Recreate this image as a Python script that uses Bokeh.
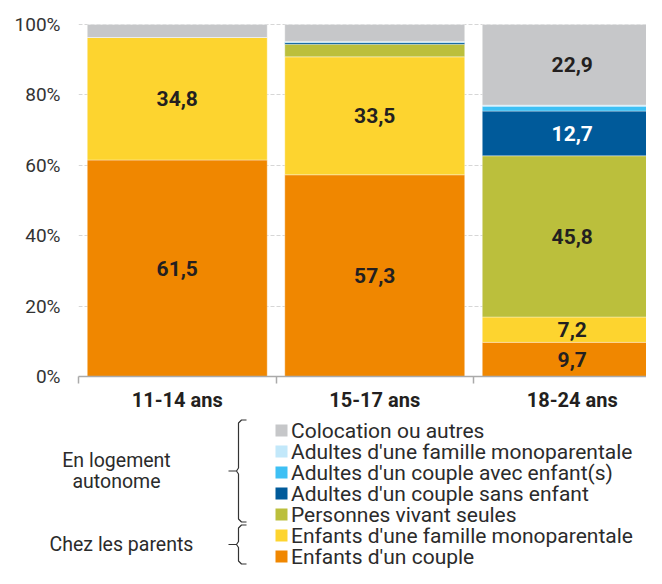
from bokeh.plotting import figure
from bokeh.models import ColumnDataSource, Range1d, FixedTicker, PrintfTickFormatter
from bokeh.embed import file_html
from bokeh.resources import INLINE
from bokeh.core.properties import value

# ---------------- data ----------------
categories = ["11-14 ans", "15-17 ans", "18-24 ans"]
series_names = [
    "Enfants d'un couple",
    "Enfants d'une famille monoparentale",
    "Personnes vivant seules",
    "Adultes d'un couple sans enfant",
    "Adultes d'un couple avec enfant(s)",
    "Adultes d'une famille monoparentale",
    "Colocation ou autres",
]
enfants_couple = [61.5, 57.3, 9.7]
enfants_mono = [34.8, 33.5, 7.2]
personnes_seules = [0.0, 3.6, 45.8]
couple_sans_enfant = [0.0, 0.5, 12.7]
couple_avec_enfant = [0.0, 0.1, 1.4]
adultes_mono = [0.0, 0.2, 0.3]
colocation = [3.7, 4.8, 22.9]
series_values = [enfants_couple, enfants_mono, personnes_seules, couple_sans_enfant,
                 couple_avec_enfant, adultes_mono, colocation]
colors = ["#F08700", "#FDD42F", "#BBBF3C", "#005A9A", "#3EC0F4", "#C2E8FA", "#C6C7C9"]
label_colors = ["#231F20", "#231F20", "#231F20", "#FFFFFF", "#231F20", "#231F20", "#231F20"]
y_ticks = [0, 20, 40, 60, 80, 100]
group_labels = [["En logement", "autonome"], ["Chez les parents"]]
group_members = [[6, 5, 4, 3, 2], [1, 0]]

FONT = "Roboto"
W = 646
H = 568

# ---------------- chart ----------------
xs = [i + 0.5 for i in range(len(categories))]
keys = ["s%d" % i for i in range(len(series_names))]
data = {"x": xs}
for k, v in zip(keys, series_values):
    data[k] = v
src = ColumnDataSource(data)

CH = 418
p = figure(width=W, height=CH, x_range=Range1d(0, 568 / 197.5), y_range=Range1d(0, 100.28),
           output_backend="svg", toolbar_location=None,
           min_border_left=78, min_border_right=0, min_border_top=23, min_border_bottom=42)
p.outline_line_color = None
p.xgrid.visible = False
p.ygrid.ticker = FixedTicker(ticks=y_ticks)
p.ygrid.grid_line_color = "#D6D6D6"
p.ygrid.grid_line_dash = "4 2"
p.ygrid.grid_line_width = 1

p.vbar_stack(keys, x="x", width=0.911, color=colors, line_color="white",
             line_width=0.5, line_alpha=0.7, source=src)

# value labels
lx, ly, lt, lc = [], [], [], []
for j, x in enumerate(xs):
    base = 0.0
    for i, vals in enumerate(series_values):
        v = vals[j]
        if v >= 5:
            lx.append(x)
            ly.append(base + v / 2)
            lt.append(("%.1f" % v).replace(".", ","))
            lc.append(label_colors[i])
        base += v
p.text(x=lx, y=ly, text=lt, text_color=lc, text_font=value(FONT), text_font_size="21px",
       text_font_style="bold", text_align="center", text_baseline="middle")

xa = p.xaxis[0]
xa.ticker = FixedTicker(ticks=xs, minor_ticks=list(range(len(categories) + 1)))
xa.major_label_overrides = {x: c for x, c in zip(xs, categories)}
xa.major_tick_line_color = None
xa.major_tick_out = 0
xa.major_tick_in = 0
xa.minor_tick_out = 7
xa.minor_tick_in = 0
xa.minor_tick_line_color = "#AAAAAA"
xa.minor_tick_line_width = 1.5
xa.axis_line_color = "#AAAAAA"
xa.axis_line_width = 1.5
xa.major_label_text_font = FONT
xa.major_label_text_font_size = "20px"
xa.major_label_text_font_style = "bold"
xa.major_label_text_color = "#231F20"
xa.major_label_standoff = 4

ya = p.yaxis[0]
ya.ticker = FixedTicker(ticks=y_ticks)
ya.formatter = PrintfTickFormatter(format="%d%%")
ya.axis_line_color = None
ya.major_tick_line_color = None
ya.minor_tick_line_color = None
ya.major_tick_out = 0
ya.major_tick_in = 0
ya.major_label_standoff = 18
ya.major_label_text_font = FONT
ya.major_label_text_font_size = "19px"
ya.major_label_text_color = "#333333"

# ---------------- legend (separate root, pixel coordinates) ----------------
LH = H - CH
q = figure(width=W, height=LH, x_range=Range1d(0, W), y_range=Range1d(LH, 0),
           output_backend="svg", toolbar_location=None,
           min_border_left=0, min_border_right=0, min_border_top=0, min_border_bottom=0,
           x_axis_location=None, y_axis_location=None)
q.outline_line_color = None
q.grid.visible = False

order = list(range(len(series_names)))[::-1]
row0, step = 12.0, 21.0
rows = [row0 + k * step for k in range(len(order))]
sq_x = 281
q.rect(x=[sq_x] * len(order), y=rows, width=12, height=12,
       color=[colors[i] for i in order], line_color=None)
q.text(x=[sq_x + 9.5] * len(order), y=rows, text=[series_names[i] for i in order],
       text_font=value(FONT), text_font_size="21px", text_color="#2B2B2B",
       text_align="left", text_baseline="middle")

xv, xh, xt = 238, 246, 228
bx, by = [], []
gtx, gty, gtt = [], [], []
label_cx = [116, 121]
for g, members in enumerate(group_members):
    ridx = [order.index(m) for m in members]
    t = rows[min(ridx)] - 10.5
    b = rows[max(ridx)] + 7.5
    m = (t + b) / 2
    bx.append([xh, xv + 3, xv, xv, xv - 2, xt, xv - 2, xv, xv, xv + 3, xh])
    by.append([t, t, t + 3, m - 3, m, m, m, m + 3, b - 3, b, b])
    n = len(group_labels[g])
    for k, s in enumerate(group_labels[g]):
        gtx.append(label_cx[g])
        gty.append(m + (k - (n - 1) / 2) * 21)
        gtt.append(s)
q.multi_line(xs=bx, ys=by, line_color="#333333", line_width=1.2)
q.text(x=gtx, y=gty, text=gtt, text_font=value(FONT), text_font_size="19.5px",
       text_color="#2B2B2B", text_align="center", text_baseline="middle")

open("out.html", "w").write(file_html([p, q], INLINE))
